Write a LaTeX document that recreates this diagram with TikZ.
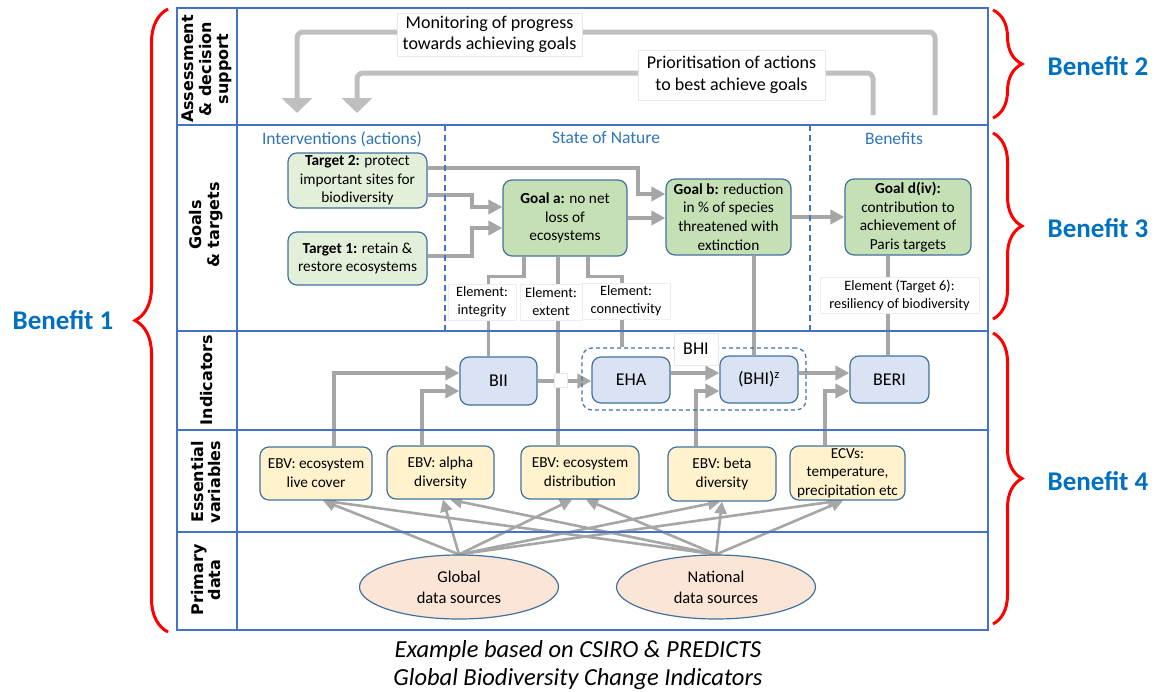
\documentclass[tikz,border=0pt]{standalone}
\usepackage{fontspec}
\setmainfont{Carlito}
\newfontfamily\rowfont{DejaVu Sans}
\usetikzlibrary{arrows.meta,shapes.geometric,backgrounds,decorations.pathreplacing}
\definecolor{framec}{HTML}{4472C4}
\definecolor{boxc}{HTML}{41719C}
\definecolor{tgtfill}{HTML}{E2F0D9}
\definecolor{goalfill}{HTML}{C5E0B4}
\definecolor{indfill}{HTML}{DAE3F3}
\definecolor{evfill}{HTML}{FFF2CC}
\definecolor{srcfill}{HTML}{FBE5D6}
\definecolor{linec}{HTML}{A6A6A6}
\definecolor{toplc}{HTML}{BFBFBF}
\definecolor{headc}{HTML}{2E75B6}
\definecolor{benc}{HTML}{0070C0}
\definecolor{bracec}{HTML}{FF0000}
\newcommand{\myfs}[2]{\fontsize{#1}{#2}\selectfont}
\tikzset{
  frameline/.style={draw=framec, line width=1.6pt},
  coldash/.style={draw=framec, line width=1.5pt, dash pattern=on 6pt off 4pt},
  rowlab/.style={rotate=90, align=center, font=\rowfont\bfseries\myfs{16}{17.5}},
  colhead/.style={text=headc, font=\myfs{17.5}{20}},
  box/.style={draw=boxc, line width=1.2pt, rounded corners=9pt, align=center, inner sep=1pt, font=\myfs{15.3}{18.7}},
  tgt/.style={box, fill=tgtfill},
  goal/.style={box, fill=goalfill},
  ind/.style={box, fill=indfill, font=\myfs{18}{21}},
  ev/.style={box, fill=evfill, font=\myfs{15.3}{19}},
  src/.style={ellipse, draw=boxc, line width=1.2pt, fill=srcfill, align=center, inner sep=0pt, font=\myfs{16.5}{21}},
  elem/.style={fill=white, draw=black!7, line width=0.6pt, align=center, inner sep=0pt, font=\myfs{14.3}{18}},
  infobox/.style={fill=white, draw=black!9, line width=0.6pt, align=center, inner sep=0pt, font=\myfs{18}{21.5}},
  conn/.style={draw=linec, line width=3.3pt},
  arr/.style={draw=linec, line width=4pt, -{Triangle[length=14pt,width=14pt]}},
  parr/.style={draw=linec, line width=2.6pt, -{Triangle[length=12pt,width=12pt]}},
  toparr/.style={draw=toplc, line width=5pt, rounded corners=6pt, -{Triangle[length=15pt,width=30pt]}},
  bracel/.style={draw=bracec, line width=3pt, decorate, decoration={brace, amplitude=33pt}},
  bracer/.style={draw=bracec, line width=3pt, decorate, decoration={brace, amplitude=29pt}},
  benlab/.style={text=benc, font=\bfseries\myfs{27}{30}},
}
\begin{document}
\begin{tikzpicture}[x=1pt,y=-1pt]
\useasboundingbox (0,0) rectangle (1157,691);

% frame
\draw[frameline] (177,8) rectangle (988,630);
\draw[frameline] (237,8) -- (237,630);
\draw[frameline] (177,125) -- (988,125);
\draw[frameline] (177,331) -- (988,331);
\draw[frameline] (177,430) -- (988,430);
\draw[frameline] (177,532) -- (988,532);
\draw[coldash] (445,125) -- (445,333);
\draw[coldash] (810,125) -- (810,333);

% row labels
\node[rowlab] (rl1) at (207,69) {Assessment\\\& decision\\support};
\node[rowlab] (rl2) at (206,225) {Goals\\\& targets};
\node[rowlab] (rl3) at (207,380) {Indicators};
\node[rowlab] (rl4) at (206,482) {Essential\\variables};
\node[rowlab] (rl5) at (206,580) {Primary\\data};

% column headers
\node[colhead] (h1) at (342,139) {Interventions (actions)};
\node[colhead] (h2) at (606,138) {State of Nature};
\node[colhead] (h3) at (894,139) {Benefits};

% top boxes
\node[infobox, minimum width=185pt, minimum height=43pt] (mon) at (489.5,34.5) {Monitoring of progress\\towards achieving goals};
\node[infobox, minimum width=187pt, minimum height=50pt] (prio) at (731.5,75) {Prioritisation of actions\\to best achieve goals};
\coordinate (mA) at (935,115);
\coordinate (mB) at (297,113);
\coordinate (pA) at (873,115);
\coordinate (pB) at (357,113);

% goals & targets
\node[tgt, minimum width=139pt, minimum height=55pt] (t2) at (357.5,180.5) {\textbf{Target 2:} protect\\important sites for\\biodiversity};
\node[tgt, minimum width=139pt, minimum height=53pt] (t1) at (357.5,258.5) {\textbf{Target 1:} retain \&\\restore ecosystems};
\node[goal, minimum width=124pt, minimum height=76pt] (ga) at (565,218) {\textbf{Goal a:} no net\\loss of\\ecosystems};
\node[goal, minimum width=125pt, minimum height=76pt] (gb) at (728.5,217) {\textbf{Goal b:} reduction\\in \% of species\\threatened with\\extinction};
\node[goal, minimum width=126pt, minimum height=76pt] (gd) at (908,217) {\textbf{Goal d(iv):}\\contribution to\\achievement of\\Paris targets};

% indicators
\node[draw=boxc, line width=1.2pt, dash pattern=on 4pt off 3pt, rounded corners=10pt, minimum width=224pt, minimum height=62pt] (bhibox) at (694,379) {};
\node[ind, minimum width=77pt, minimum height=48pt] (bii) at (498.5,381) {BII};
\node[ind, minimum width=78pt, minimum height=46pt] (eha) at (631,380) {EHA};
\node[ind, minimum width=78pt, minimum height=47pt] (bhiz) at (759,379.5) {(BHI)\textsuperscript{z}};
\node[ind, minimum width=79pt, minimum height=47pt] (beri) at (889.5,379.5) {BERI};

% essential variables
\node[ev, minimum width=112pt, minimum height=53pt] (ev1) at (316,473.5) {EBV: ecosystem\\live cover};
\node[ev, minimum width=107pt, minimum height=53pt] (ev2) at (440.5,472.5) {EBV: alpha\\diversity};
\node[ev, minimum width=118pt, minimum height=53pt] (ev3) at (580,472.5) {EBV: ecosystem\\distribution};
\node[ev, minimum width=108pt, minimum height=54pt] (ev4) at (722,474) {EBV: beta\\diversity};
\node[ev, minimum width=115pt, minimum height=54pt, font=\myfs{15.2}{18.5}] (ev5) at (847.5,473) {ECVs:\\temperature,\\precipitation etc};

% primary data
\node[src, minimum width=199pt, minimum height=64pt] (glob) at (459,587) {Global\\data sources};
\node[src, minimum width=199pt, minimum height=64pt] (nat) at (716,587) {National\\data sources};

% connectors (background)
\begin{pgfonlayer}{background}
\draw[toparr] (mA) -- ++(0,-83) -| (mB);
\draw[toparr] (pA) -- ++(0,-42) -| (pB);

\coordinate (k1) at (638,167.5);
\coordinate (k2) at (472,195);
\coordinate (k3) at (472,256);
\draw[arr] ([yshift=13pt]t2.east) -- (k1) |- ([yshift=23pt]gb.west);
\draw[arr] ([yshift=-14.5pt]t2.east) -- (k2) |- ([yshift=11pt]ga.west);
\draw[arr] ([yshift=2.5pt]t1.east) -- (k3) |- ([yshift=-10pt]ga.west);
\draw[arr] (ga.east) -- (ga.east -| gb.west);
\draw[arr] (gb.east) -- (gb.east -| gd.west);

\draw[conn] ([xshift=-41pt]ga.south) -- ++(0,20) -| ([xshift=-10pt]bii.north);
\draw[conn] ([xshift=-7pt]ga.south) -- ([xshift=-7pt]ga.south |- ev3.north);
\draw[conn] ([xshift=23pt]ga.south) -- ++(0,20) -| ([xshift=-72pt]bhibox.north);
\draw[conn] ([xshift=25.5pt]gb.south) -- ([xshift=25.5pt]gb.south |- bhiz.north);
\draw[conn] ([xshift=-20pt]gd.south) -- ([xshift=-20pt]gd.south |- beri.north);

\draw[arr] ([xshift=18pt]ev1.north) |- ([yshift=8pt]bii.west);
\draw[arr] ([xshift=-18.5pt]ev2.north) |- ([yshift=-10pt]bii.west);
\draw[arr] (bii.east) -- (bii.east -| eha.west);
\draw[arr] ([yshift=7pt]eha.east) -- ([yshift=7pt]eha.east -| bhiz.west);
\draw[arr] ([xshift=-26pt]ev4.north) |- ([yshift=-11.5pt]bhiz.west);
\draw[arr] ([yshift=6.5pt]bhiz.east) -- ([yshift=6.5pt]bhiz.east -| beri.west);
\draw[arr] ([xshift=-22.5pt]ev5.north) |- ([yshift=-11.5pt]beri.west);

\draw[parr] (glob.north) -- ([xshift=7pt]ev1.south);
\draw[parr] (nat.north) -- ([xshift=7pt]ev1.south);
\draw[parr] (glob.north) -- ([xshift=2.5pt]ev2.south);
\draw[parr] (nat.north) -- ([xshift=9.5pt]ev2.south);
\draw[parr] (glob.north) -- ([xshift=-8pt]ev3.south);
\draw[parr] (nat.north) -- ([xshift=6pt]ev3.south);
\draw[parr] (glob.north) -- ([xshift=-2pt]ev4.south);
\draw[parr] (nat.north) -- (ev4.south);
\draw[parr] (glob.north) -- ([xshift=-7.5pt]ev5.south);
\draw[parr] (nat.north) -- ([xshift=-4.5pt]ev5.south);
\end{pgfonlayer}

% element labels (over the connectors)
\node[elem, minimum width=68pt, minimum height=36pt] (elint) at (482,302) {Element:\\integrity};
\node[elem, minimum width=62pt, minimum height=36pt] (elext) at (551,302) {Element:\\extent};
\node[elem, minimum width=88pt, minimum height=36pt] (elcon) at (626,301) {Element:\\connectivity};
\node[elem, minimum width=159pt, minimum height=36pt] (elt6) at (899.5,295) {Element (Target 6):\\resiliency of biodiversity};
\node[infobox, minimum width=44pt, minimum height=32pt] (bhilab) at (696,349) {BHI};
\node[fill=white, draw=black!9, line width=0.6pt, minimum width=13pt, minimum height=14pt, inner sep=0pt] (gap) at (560.5,380) {};

% braces and benefits
\draw[bracel] (168,632) -- (168,9);
\draw[bracer] (993,10) -- (993,118);
\draw[bracer] (993,133) -- (993,319);
\draw[bracer] (993,333) -- (993,624);
\node[benlab] (b1) at (63,320) {Benefit 1};
\node[benlab] (b2) at (1098,66) {Benefit 2};
\node[benlab] (b3) at (1098,228) {Benefit 3};
\node[benlab] (b4) at (1098,481) {Benefit 4};

% caption
\node[font=\itshape\myfs{24.5}{28}, align=center] (cap) at (578,665) {Example based on CSIRO \& PREDICTS\\Global Biodiversity Change Indicators};
\end{tikzpicture}
\end{document}
